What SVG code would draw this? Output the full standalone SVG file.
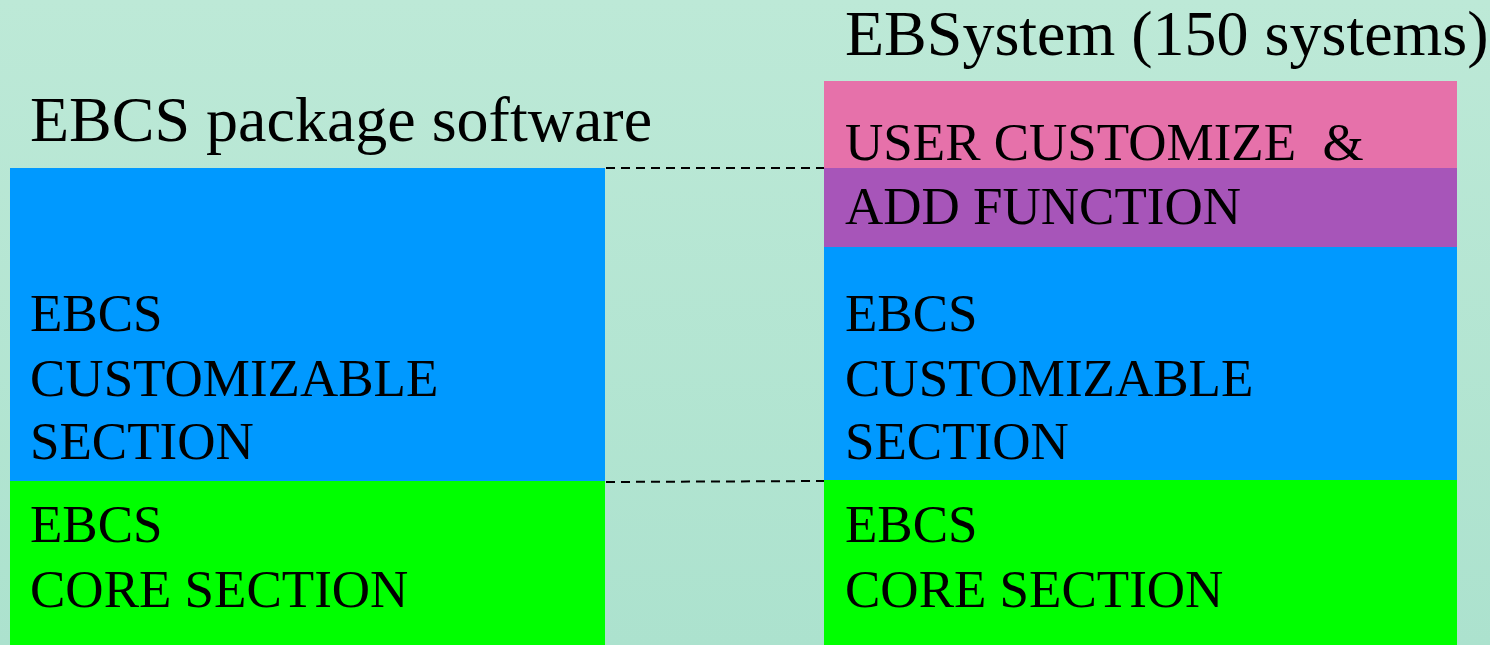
<svg xmlns="http://www.w3.org/2000/svg" width="1490" height="645" viewBox="0 0 1490 645">
<defs>
<linearGradient id="bg" x1="0" y1="0" x2="0" y2="1">
<stop offset="0" stop-color="#bde9d7"/>
<stop offset="1" stop-color="#ace2ce"/>
</linearGradient>
</defs>
<style>
text{font-family:"Liberation Serif","Times New Roman",serif;fill:#000}
.t{font-size:53px}
.h{font-size:64px}
.dash{stroke:#000;stroke-width:2;stroke-dasharray:9 6;fill:none}
</style>
<rect x="0" y="0" width="1490" height="645" fill="url(#bg)"/>
<text class="h" x="30" y="141">EBCS package software</text>
<text class="h" x="845" y="55">EBSystem (150 systems)</text>
<g id="left-customizable">
<rect x="10" y="168" width="595" height="313" fill="#0099ff"/>
<text class="t" x="30" y="331">EBCS</text>
<text class="t" x="30" y="396">CUSTOMIZABLE</text>
<text class="t" x="30" y="459">SECTION</text>
</g>
<g id="left-core">
<rect x="10" y="481" width="595" height="164" fill="#00ff00"/>
<text class="t" x="30" y="542">EBCS</text>
<text class="t" x="30" y="607">CORE SECTION</text>
</g>
<g id="right-user">
<rect x="824" y="81" width="633" height="87" fill="#e671aa"/>
<rect x="824" y="168" width="633" height="79" fill="#a755b9"/>
<text class="t" x="845" y="160" xml:space="preserve">USER CUSTOMIZE  &amp;</text>
<text class="t" x="845" y="224">ADD FUNCTION</text>
</g>
<g id="right-customizable">
<rect x="824" y="247" width="633" height="233" fill="#0099ff"/>
<text class="t" x="845" y="331">EBCS</text>
<text class="t" x="845" y="396">CUSTOMIZABLE</text>
<text class="t" x="845" y="459">SECTION</text>
</g>
<g id="right-core">
<rect x="824" y="480" width="633" height="165" fill="#00ff00"/>
<text class="t" x="845" y="542">EBCS</text>
<text class="t" x="845" y="607">CORE SECTION</text>
</g>
<g id="connectors">
<line class="dash" x1="606" y1="168" x2="824" y2="168"/>
<line class="dash" x1="606" y1="482" x2="824" y2="481"/>
</g>
</svg>
